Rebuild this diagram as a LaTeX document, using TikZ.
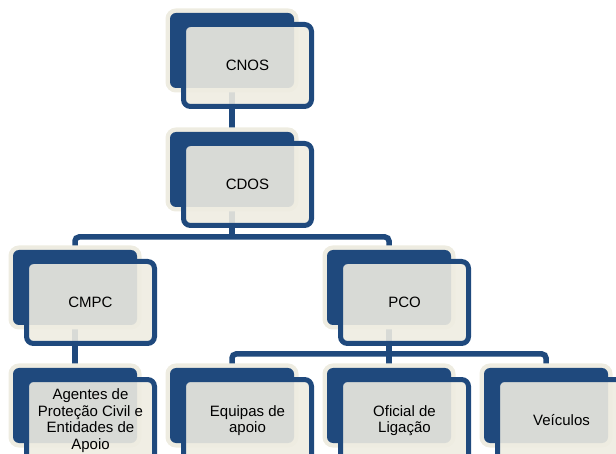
\documentclass[tikz,border=0pt]{standalone}
\usepackage{fontspec}
\setmainfont{Liberation Sans}
\definecolor{navy}{RGB}{31,73,125}
\definecolor{cream}{RGB}{238,236,225}
\pgfdeclarelayer{bg}
\pgfsetlayers{bg,main}
\newcommand\orgunit[4]{%
  \node[backbox] (#1) at (#2,#3) {};
  \node[frontbox] (#1F) at (#2+13.5,#3+11.5) {#4};
}
\begin{document}
\begin{tikzpicture}[x=1pt,y=-1pt,
  backbox/.style={rectangle, rounded corners=6pt, fill=navy,
    minimum width=124pt, minimum height=75pt, inner sep=0pt, outer sep=0pt,
    anchor=north west, preaction={draw=cream, line width=9pt}},
  frontbox/.style={rectangle, rounded corners=7pt, draw=navy, line width=5pt,
    fill=cream, fill opacity=0.895, text opacity=1, draw opacity=1,
    minimum width=128pt, minimum height=82pt, inner sep=0pt, outer sep=0pt,
    anchor=north west, align=center, font=\fontsize{15}{16.5}\selectfont},
  conn/.style={draw=navy, line width=5.5pt, rounded corners=4pt}]
\useasboundingbox (0,0) rectangle (616,454);
\clip (0,0) rectangle (616,454);
\orgunit{cnos}{170}{13}{CNOS}
\orgunit{cdos}{170}{132}{CDOS}
\orgunit{cmpc}{13}{250}{CMPC}
\orgunit{pco}{327}{250}{PCO}
\orgunit{agentes}{13}{368}{Agentes de\\Proteção Civil e\\Entidades de\\Apoio}
\orgunit{equipas}{170}{368}{Equipas de\\apoio}
\orgunit{oficial}{327}{368}{Oficial de\\Ligação}
\orgunit{veiculos}{484}{368}{Veículos}
\coordinate (bar1) at (232,237);
\coordinate (bar2) at (389,354);
\begin{pgfonlayer}{bg}
\draw[conn] (cnos.center) -- (cdos.center);
\draw[conn] (cdos.center) -- (bar1);
\draw[conn] (cmpc.center) |- (bar1) -| (pco.center);
\draw[conn] (cmpc.center) -- (agentes.center);
\draw[conn] (pco.center) -- (bar2);
\draw[conn] (equipas.center) |- (bar2) -| (veiculos.center);
\draw[conn] (oficial.center) -- (bar2);
\end{pgfonlayer}
\end{tikzpicture}
\end{document}
